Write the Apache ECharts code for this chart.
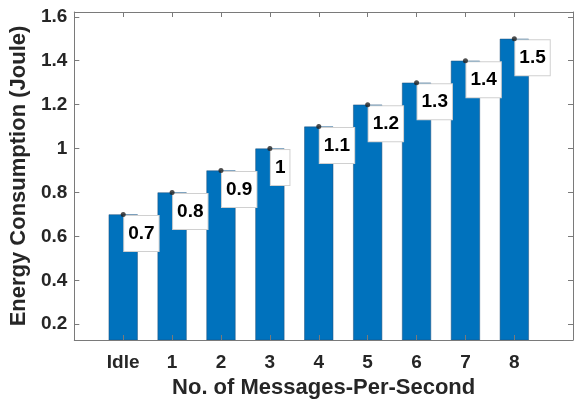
<!DOCTYPE html>
<html>
<head>
<meta charset="utf-8">
<script src="https://cdn.jsdelivr.net/npm/echarts@6/dist/echarts.min.js"></script>
<style>
  html, body { margin: 0; padding: 0; background: #fff; }
  #chart { width: 576px; height: 404px; }
</style>
</head>
<body>
<div id="chart"></div>
<script>
// categories on the x axis and measured energy per category
const categories = ['Idle', '1', '2', '3', '4', '5', '6', '7', '8']
const energy = [0.7, 0.8, 0.9, 1.0, 1.1, 1.2, 1.3, 1.4, 1.5]
const yTicks = [0.2, 0.4, 0.6, 0.8, 1.0, 1.2, 1.4, 1.6]
const xTicks = [0, 1, 2, 3, 4, 5, 6, 7, 8]

const points = energy.map((v, i) => [i, v])
const font = 'Liberation Sans, Arial, Helvetica, sans-serif'
const textColor = '#262626'
const boxColor = '#7a7a7a'

const chart = echarts.init(document.getElementById('chart'))

const xBase = {
  type: 'value',
  min: -1,
  max: 9.2,
  z: 5,
  axisLine: { show: true, onZero: false, lineStyle: { color: boxColor, width: 1 } },
  axisTick: { show: true, inside: true, length: 5, customValues: xTicks, lineStyle: { color: boxColor } },
  splitLine: { show: false }
}
const yBase = {
  type: 'value',
  min: 0.128,
  max: 1.622,
  z: 5,
  axisLine: { show: true, onZero: false, lineStyle: { color: boxColor, width: 1 } },
  axisTick: { show: true, inside: true, length: 5, customValues: yTicks, lineStyle: { color: boxColor } },
  splitLine: { show: false }
}

chart.setOption({
  animation: false,
  grid: { left: 74, right: 3, top: 12, bottom: 59 },
  xAxis: [
    Object.assign({}, xBase, {
      position: 'bottom',
      name: 'No. of Messages-Per-Second',
      nameLocation: 'middle',
      nameGap: 37,
      nameTextStyle: { fontFamily: font, fontSize: 22, fontWeight: 'bold', color: textColor },
      axisLabel: {
        customValues: xTicks,
        margin: 13,
        fontFamily: font, fontSize: 19, fontWeight: 'bold', color: textColor,
        formatter: (v) => categories[Math.round(v)]
      }
    }),
    Object.assign({}, xBase, { position: 'top', axisLabel: { show: false } })
  ],
  yAxis: [
    Object.assign({}, yBase, {
      position: 'left',
      name: 'Energy Consumption (Joule)',
      nameLocation: 'middle',
      nameGap: 31,
      nameTextStyle: { fontFamily: font, fontSize: 22, fontWeight: 'bold', color: textColor },
      axisLabel: {
        customValues: yTicks,
        margin: 7,
        fontFamily: font, fontSize: 19, fontWeight: 'bold', color: textColor,
        formatter: (v) => String(Math.round(v * 10) / 10)
      }
    }),
    Object.assign({}, yBase, { position: 'right', axisLabel: { show: false } })
  ],
  series: [
    {
      type: 'bar',
      data: points,
      barWidth: 29,
      itemStyle: { color: '#0072BD', borderColor: '#1f4e79', borderWidth: 0.5 },
      label: {
        show: true,
        position: [15.5, 1.5],
        formatter: (p) => String(p.value[1]),
        fontFamily: font, fontSize: 19, fontWeight: 'bold', color: '#000',
        lineHeight: 19,
        backgroundColor: '#fff',
        borderColor: '#d0d0d0',
        borderWidth: 1,
        padding: [8, 4]
      },
      z: 2
    },
    {
      type: 'scatter',
      data: points,
      symbolSize: 5,
      itemStyle: { color: '#222' },
      z: 6
    }
  ]
})
</script>
</body>
</html>
